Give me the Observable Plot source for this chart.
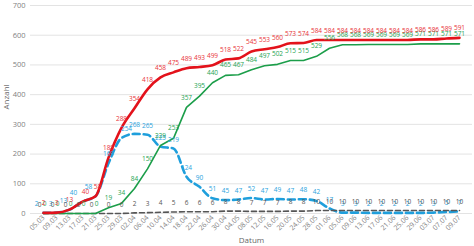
<!DOCTYPE html>
<html><head><meta charset="utf-8">
<script src="https://cdn.jsdelivr.net/npm/d3@7"></script>
<script src="https://cdn.jsdelivr.net/npm/@observablehq/plot@0.6"></script>
<style>html,body{margin:0;padding:0;background:#fff;} svg{display:block}</style>
</head><body><div id="chart"></div>
<script>
const dates = ["05.03","09.03","13.03","17.03","21.03","25.03","29.03","02.04","06.04","10.04","14.04","18.04","22.04","26.04","30.04","04.05","08.05","12.05","16.05","20.05","24.05","28.05","01.06","05.06","09.06","13.06","17.06","21.06","25.06","29.06","03.07","07.07","09.07"];
const bestaetigt = [2,3,13,40,58,188,288,354,418,458,475,489,493,499,518,522,545,553,560,573,574,584,584,584,584,584,584,584,584,586,586,589,591];
const genesen = [0,0,0,0,0,19,34,84,150,229,253,357,395,440,465,467,484,497,502,515,515,529,556,568,568,569,569,569,569,571,571,571,571];
const aktiv = [2,3,13,40,58,169,254,268,265,225,219,124,90,51,45,47,52,47,49,47,48,42,17,3,3,2,2,2,2,2,3,5,7];
const verstorben = [0,0,0,0,0,0,0,2,3,4,5,6,6,6,8,8,7,7,7,8,8,10,10,10,10,10,10,10,10,10,10,10,10];
const yTicks = [0,100,200,300,400,500,600,700];

// label nudges (style only): index -> horizontal offset in px
const nudge = {
  aktiv: {0:-7, 1:-6, 2:-6, 3:-9, 4:-7, 6:5},
  verstorben: {0:-4, 1:-4, 2:-4, 3:-4, 4:-4},
  genesen: {0:1, 1:1, 2:1, 3:1, 4:1},
  bestaetigt: {3:3, 4:2}
};

const series = [
  {key:"aktiv", values:aktiv, stroke:"#1f9fdc", text:"#2aa3de", width:2.6, dash:"7,4", curve:"monotone-x", dy:-9},
  {key:"verstorben", values:verstorben, stroke:"#555555", text:"#555555", width:1.6, dash:"5,3", curve:"linear", dy:-9},
  {key:"genesen", values:genesen, stroke:"#1c9e4a", text:"#25a352", width:1.6, dash:null, curve:"linear", dy:-10},
  {key:"bestaetigt", values:bestaetigt, stroke:"#e3121b", text:"#e8333a", width:2.6, dash:null, curve:"monotone-x", dy:-9.5}
];

const marks = [
  Plot.gridY(yTicks, {stroke:"#e3e3e3", strokeOpacity:1, strokeWidth:1}),
  Plot.axisY(yTicks, {tickSize:0, tickPadding:5, fontSize:7.5, fill:"#7f7f7f", label:null}),
  Plot.axisX({tickSize:0, tickRotate:-45, tickPadding:3, fontSize:7, fill:"#7f7f7f", label:null}),
  Plot.text(["Anzahl"], {frameAnchor:"left", dx:-24, rotate:-90, fontSize:8, fill:"#666"}),
  Plot.text(["Datum"], {frameAnchor:"bottom", dy:29, fontSize:8, fill:"#666"})
];
for (const s of series) {
  const rows = dates.map((d,i) => ({date:d, value:s.values[i]}));
  marks.push(Plot.line(rows, {x:"date", y:"value", stroke:s.stroke, strokeWidth:s.width, strokeDasharray:s.dash, curve:s.curve}));
}
for (const s of series) {
  const n = nudge[s.key];
  const plain = [], moved = {};
  dates.forEach((d,i) => {
    const r = {date:d, value:s.values[i]};
    if (n[i] !== undefined) (moved[n[i]] ??= []).push(r); else plain.push(r);
  });
  marks.push(Plot.text(plain, {x:"date", y:"value", text:d => String(d.value), dy:s.dy, fontSize:6.5, fill:s.text}));
  for (const [dx, rows] of Object.entries(moved)) {
    marks.push(Plot.text(rows, {x:"date", y:"value", text:d => String(d.value), dy:s.dy, dx:+dx, fontSize:6.5, fill:s.text}));
  }
}

const chart = Plot.plot({
  width:474, height:246,
  marginLeft:30, marginRight:2, marginTop:5, marginBottom:33,
  style:{fontFamily:"'Open Sans', sans-serif", background:"#fff", overflow:"visible"},
  x:{type:"point", domain:dates, padding:0.5, label:null},
  y:{domain:[0,700], label:null},
  marks
});
document.getElementById("chart").appendChild(chart);
</script>
</body></html>
